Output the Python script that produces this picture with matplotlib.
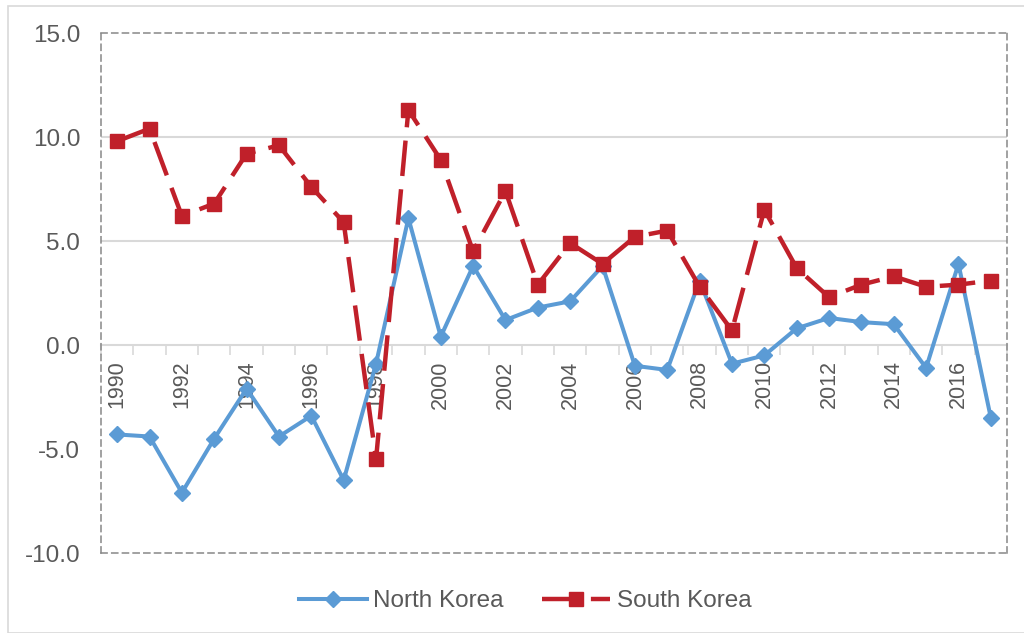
import matplotlib
matplotlib.use("Agg")
import matplotlib.pyplot as plt
from matplotlib.patches import Rectangle
from matplotlib.ticker import FixedLocator, NullFormatter

plt.rcParams['font.family'] = ['Liberation Sans', 'DejaVu Sans']

years = list(range(1990, 2018))
north_korea = [-4.3, -4.4, -7.1, -4.5, -2.1, -4.4, -3.4, -6.5, -0.9, 6.1,
               0.4, 3.8, 1.2, 1.8, 2.1, 3.8, -1.0, -1.2, 3.1, -0.9,
               -0.5, 0.8, 1.3, 1.1, 1.0, -1.1, 3.9, -3.5]
south_korea = [9.8, 10.4, 6.2, 6.8, 9.2, 9.6, 7.6, 5.9, -5.5, 11.3,
               8.9, 4.5, 7.4, 2.9, 4.9, 3.9, 5.2, 5.5, 2.8, 0.7,
               6.5, 3.7, 2.3, 2.9, 3.3, 2.8, 2.9, 3.1]
y_ticks = [-10.0, -5.0, 0.0, 5.0, 10.0, 15.0]
x_label_years = list(range(1990, 2018, 2))

blue = '#5B9BD5'
red = '#C0202A'
txt = '#595959'

fig = plt.figure(figsize=(10.24, 6.33), dpi=100)
ax = fig.add_axes([101/1024, 1-553/633, (1007-101)/1024, (553-33)/633])

ax.plot(years, north_korea, color=blue, lw=2.9, marker='D', ms=8,
        label='North Korea', zorder=3)
ax.plot(years, south_korea, color=red, lw=3.2, ls=(0, (8, 3)), marker='s',
        ms=9.5, label='South Korea', zorder=4)

ax.set_xlim(years[0]-0.5, years[-1]+0.5)
ax.set_ylim(-10, 15)
ax.set_yticks(y_ticks)
ax.set_yticklabels([f'{v:.1f}' for v in y_ticks])
ax.tick_params(axis='y', length=0, pad=15, labelsize=17.5, labelcolor=txt)
ax.set_xticks([])
for v in [5, 10]:
    ax.axhline(v, color='#D9D9D9', lw=1.5, zorder=1)

for s in ax.spines.values():
    s.set_color('#888888')
    s.set_linestyle((0, (4, 3)))
    s.set_linewidth(1.1)

sec = ax.secondary_xaxis(10/25)
sec.spines['bottom'].set_color('#D9D9D9')
sec.spines['bottom'].set_linewidth(1.5)
sec.set_xticks(x_label_years)
sec.set_xticklabels([str(y) for y in x_label_years], rotation=90, va='top', ha='center')
sec.tick_params(axis='x', which='major', length=0, pad=11, labelsize=15.5, labelcolor=txt)
sec.xaxis.set_minor_locator(FixedLocator([y - 0.5 for y in years] + [years[-1] + 0.5]))
sec.xaxis.set_minor_formatter(NullFormatter())
sec.tick_params(axis='x', which='minor', length=7, width=1.2, color='#D9D9D9', direction='out')

leg = fig.legend(loc='center', bbox_to_anchor=(525/1024, 1-601/633), ncol=2, frameon=False,
                 fontsize=17.5, handlelength=2.8, columnspacing=1.6, handletextpad=0.25)
for t in leg.get_texts():
    t.set_color(txt)

fig.patches.append(Rectangle((8/1024, 0), 1.1, 1-6/633, transform=fig.transFigure,
                             fill=False, edgecolor='#D9D9D9', lw=1.2, clip_on=False))

fig.savefig('out.png', dpi=100)
